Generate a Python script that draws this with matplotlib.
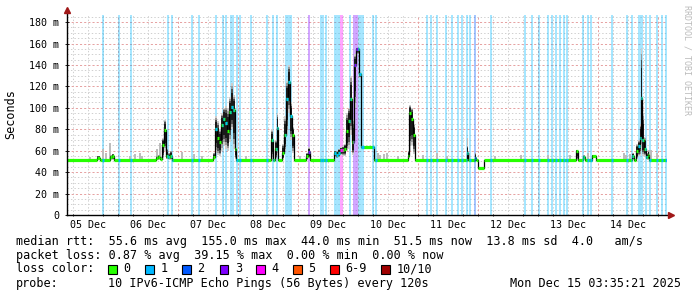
import numpy as np
import matplotlib.pyplot as plt
from matplotlib.collections import LineCollection
from matplotlib.patches import Rectangle

plt.rcParams['font.family'] = ['DejaVu Sans Mono', 'DejaVu Sans']
plt.rcParams['lines.scale_dashes'] = False

B = 51.5  # steady median rtt in ms

# median steps, hours since 05 Dec 00:00
step_h = [3.6, 15.6, 16.8, 20.8, 21.6, 22.4,
          39.2, 40.0, 40.8, 41.6, 42.4, 43.2, 44.0, 44.8, 45.6,
          62.0, 62.8, 63.6, 64.4, 65.2, 66.0, 66.8, 67.6, 68.4, 69.2, 70.0, 70.6, 71.0,
          85.2, 86.0, 86.8, 87.4, 88.0, 89.6, 90.4, 91.2, 92.0, 92.8, 93.6, 94.4, 99.2, 99.8, 100.8,
          110.4, 111.2, 112.0, 112.8, 113.6, 114.4, 115.2, 116.0, 116.8, 117.6, 118.4, 119.0, 120.5, 121.1, 126.2,
          139.8, 140.4, 141.2, 142.0, 142.6,
          163.4, 163.8, 166.6, 167.2, 167.8, 170.3,
          207.2, 207.8, 210.0, 210.6, 213.6, 215.2,
          229.4, 230.2, 231.2, 232.0, 232.6, 233.0, 233.6, 234.2, 235.0, 235.8, 236.4]
med_ms = [B, 53.5, B, 54, 55, B,
          53, 54, 52, 65, 79, 55, 54, 55, B,
          54, 80, 72, 68, 84, 90, 86, 78, 96, 101, 98, 62, B,
          70, B, 62, 81, B, 58, 75, 108, 124, 92, 75, B, 55, 59, B,
          58, 56, 58, 61, 61, 62, 78, 88, 108, 68, 140, 155, 132, 63, B,
          55, 95, 90, 75, B,
          58, B, 53, 51, 43.5, B,
          60, B, 54, B, 55, B,
          55, B, 60, 64, 72, 109, 70, 62, 54, 56, B]
lo_ms = [B, B, B, B, B, B,
         B, B, B, 53, 60, 52, B, B, B,
         B, 58, 56, 55, 60, 65, 62, 60, 68, 80, 62, 52, B,
         52, B, 52, 55, B, 52, 60, 75, 95, 70, 58, B, B, 52, B,
         54, 53, 54, 56, 55, 55, 60, 62, 75, 56, 100, 150, 128, 62.5, B,
         B, 60, 65, 57, B,
         B, B, B, 50, 43, B,
         B, B, B, B, 54, B,
         B, B, 52, 55, 55, 60, 55, 55, B, B, B]
hi_ms = [B, 55, B, 56, 57, B,
         55, 56, 54, 72, 89, 62, 58, 60, B,
         58, 92, 88, 80, 95, 100, 102, 100, 110, 123, 112, 70, B,
         80, B, 70, 95, B, 66, 92, 125, 140, 105, 82, B, 58, 63, B,
         60, 60, 62, 63, 64, 66, 95, 100, 130, 90, 150, 156, 133, 63.5, B,
         60, 103, 100, 85, B,
         65, B, 58, 52, 44.5, B,
         61, B, 56, B, 56, B,
         58, B, 66, 70, 85, 156, 95, 73, 58, 60, B]

# single outlier pings on the flat parts
spike_h = [12.8, 18.0, 19.2, 20.8, 28.8, 30.8, 32.8, 33.6, 39.6, 40.8,
           49.6, 54.4, 57.6, 75.2, 86.0, 96.8, 128.0, 128.8, 130.4, 131.6,
           136.0, 146.0, 151.6, 155.6, 163.8, 164.4, 174.8, 185.2, 196.0, 204.8,
           212.0, 226.4, 227.2, 228.8, 236.4, 237.2, 239.6]
spike_ms = [54, 62, 58, 67, 55, 57, 58, 55, 62, 67,
            59, 57, 55, 55, 56, 55, 58, 56, 57, 58,
            55, 56, 58, 55, 72, 58, 55, 56, 56, 56,
            58, 58, 56, 57, 61, 61, 58]

# packet loss samples (centre hour, width in hours, lost pings)
loss_h = [17.9, 24.4, 29.2, 44.0, 45.6, 53.6, 56.4, 63.2, 66.1, 67.2,
          69.5, 71.5, 72.8, 77.1, 83.5, 86.1, 87.7, 92.1, 100.2, 105.1,
          105.9, 107.2, 111.6, 113.5, 116.8, 119.0, 121.2, 125.9, 127.2, 147.6,
          149.2, 151.6, 155.2, 157.6, 160.0, 161.6, 163.6, 164.8, 166.8, 173.2,
          186.8, 189.6, 192.4, 196.0, 197.6, 199.2, 200.8, 202.4, 203.6, 210.0,
          212.0, 213.2, 221.6, 227.6, 229.6, 233.0, 235.2, 236.8, 239.6, 241.6,
          243.2]
loss_w = [0.8, 0.8, 0.8, 0.8, 0.8, 0.8, 0.8, 0.8, 0.8, 0.8,
          1.4, 0.8, 0.8, 0.8, 0.8, 0.8, 0.8, 2.7, 0.8, 0.8,
          0.8, 0.8, 2.4, 1.3, 0.8, 2.0, 2.4, 0.8, 0.8, 0.8,
          0.8, 0.8, 0.8, 0.8, 0.8, 0.8, 0.8, 0.8, 0.8, 0.8,
          0.8, 0.8, 0.8, 0.8, 0.8, 0.8, 0.8, 0.8, 0.8, 0.8,
          0.8, 0.8, 0.8, 0.8, 0.8, 2.0, 0.8, 0.8, 0.8, 0.8,
          0.8]
loss_n = [1, 1, 1, 1, 1, 1, 1, 1, 1, 1,
          1, 1, 1, 1, 1, 1, 1, 1, 3, 1,
          1, 1, 1, 4, 1, 3, 1, 1, 1, 1,
          1, 1, 1, 1, 1, 1, 1, 1, 2, 1,
          1, 1, 1, 1, 1, 1, 1, 1, 1, 1,
          1, 1, 1, 1, 1, 1, 1, 1, 1, 1,
          1]

loss_colors = {0: '#26ff00', 1: '#00b8ff', 2: '#0059ff', 3: '#7e00ff',
               4: '#ff00ff', 5: '#ff5500', 6: '#ff0000', 10: '#a00000'}
legend_names = ['0', '1', '2', '3', '4', '5', '6-9', '10/10']
legend_keys = [0, 1, 2, 3, 4, 5, 6, 10]

day_labels = ['05 Dec', '06 Dec', '07 Dec', '08 Dec', '09 Dec',
              '10 Dec', '11 Dec', '12 Dec', '13 Dec', '14 Dec']
t_start, t_end = 3.6, 243.6
y_top = 186.6

W, H = 697, 297
fig = plt.figure(figsize=(W / 100, H / 100), dpi=100)
fig.patch.set_facecolor('white')
ax = fig.add_axes([67 / W, 82 / H, 600 / W, 200 / H])
ax.set_xlim(t_start, t_end)
ax.set_ylim(0, y_top)
for s in ax.spines.values():
    s.set_visible(False)

# grid
minor_x = np.arange(6, 244, 6)
for x in minor_x:
    if x % 24:
        ax.axvline(x, color='#cfcfcf', lw=0.7, ls=(0, (1, 1.5)), zorder=1)
for y in range(5, 187, 5):
    if y % 20:
        ax.axhline(y, color='#cfcfcf', lw=0.7, ls=(0, (1, 1.5)), zorder=1)
for x in range(24, 244, 24):
    ax.axvline(x, color='#e6a0a0', lw=0.7, ls=(0, (1.5, 1.5)), zorder=1)
for y in range(20, 181, 20):
    ax.axhline(y, color='#e6a0a0', lw=0.7, ls=(0, (1.5, 1.5)), zorder=1)

# loss background bars
for h, w, n in zip(loss_h, loss_w, loss_n):
    ax.axvspan(h - w / 2, h + w / 2, color=loss_colors[n], alpha=0.35, lw=0, zorder=1.2)

# smoke
edges = np.append(step_h, t_end)
med = np.array(med_ms, dtype=float)
med_e = np.append(med, med[-1])
lo_e = np.append(lo_ms, lo_ms[-1])
hi_e = np.append(hi_ms, hi_ms[-1])
ax.bar(spike_h, np.array(spike_ms) - B, bottom=B, width=0.45, color='#bdbdbd', zorder=1.9)
for f, c in [(1.0, '#cdcdcd'), (0.88, '#9a9a9a'), (0.75, '#505050'), (0.6, '#1a1a1a')]:
    ax.fill_between(edges, med_e - (med_e - lo_e) * f, med_e + (hi_e - med_e) * f,
                    step='post', color=c, lw=0, zorder=2)

# median line
ax.step(edges, med_e, where='post', color='black', lw=0.9, zorder=3)
segs = [[(edges[i], med[i]), (edges[i + 1], med[i])] for i in range(len(med))]
ax.add_collection(LineCollection(segs, colors=loss_colors[0], linewidths=2.3,
                                 capstyle='butt', zorder=4))
for h, w, n in zip(loss_h, loss_w, loss_n):
    a, b = h - w / 2, h + w / 2
    for i in range(len(med)):
        s0, s1 = max(a, edges[i]), min(b, edges[i + 1])
        if s1 > s0:
            ax.plot([s0, s1], [med[i], med[i]], color=loss_colors[n], lw=2.3,
                    solid_capstyle='butt', zorder=5)

# axes with arrows
ax.plot([0, 0], [0, 1.03], transform=ax.transAxes, color='black', lw=1, clip_on=False, zorder=6)
ax.plot([0, 1.006], [0, 0], transform=ax.transAxes, color='black', lw=1, clip_on=False, zorder=6)
ax.plot(0, 1.027, marker='^', ms=4, color='#a01818', transform=ax.transAxes, clip_on=False, zorder=7)
ax.plot(1.007, 0, marker='>', ms=4, color='#a01818', transform=ax.transAxes, clip_on=False, zorder=7)

ax.set_xticks([12 + 24 * i for i in range(len(day_labels))], labels=day_labels)
ax.set_xticks(minor_x, minor=True)
ax.tick_params(axis='x', which='major', length=0, pad=3.5, labelsize=7.2)
ax.tick_params(axis='x', which='minor', length=2, width=0.6, direction='inout')
yt = np.arange(0, 181, 20)
ax.set_yticks(yt, labels=['0'] + [f'{v} m' for v in yt[1:]])
ax.tick_params(axis='y', length=3, width=0.6, direction='inout', pad=4, labelsize=7.2)

fig.text(11 / W, 1 - 114 / H, 'Seconds', rotation=90, ha='center', va='center', fontsize=8.5)
fig.text(687 / W, 1 - 5 / H, 'RRDTOOL / TOBI OETIKER', rotation=270, ha='center', va='top',
         fontsize=6, color='#bbbbbb')

# legend block
rows_y = [241, 255.5, 269, 283.5]
fig.text(16 / W, 1 - rows_y[0] / H,
         'median rtt:  55.6 ms avg  155.0 ms max  44.0 ms min  51.5 ms now  13.8 ms sd  4.0   am/s',
         va='center', fontsize=8.5)
fig.text(16 / W, 1 - rows_y[1] / H,
         'packet loss: 0.87 % avg  39.15 % max  0.00 % min  0.00 % now',
         va='center', fontsize=8.5)
fig.text(16 / W, 1 - rows_y[2] / H, 'loss color:', va='center', fontsize=8.5)
box_x = [108, 145, 182, 220, 256, 293, 330, 381]
for bx, k, name in zip(box_x, legend_keys, legend_names):
    fig.add_artist(Rectangle((bx / W, 1 - 273.5 / H), 8.5 / W, 8.5 / H, facecolor=loss_colors[k],
                             edgecolor='black', lw=0.8, transform=fig.transFigure))
    fig.text((bx + 15.5) / W, 1 - rows_y[2] / H, name, va='center', fontsize=8.5)
fig.text(16 / W, 1 - rows_y[3] / H, 'probe:', va='center', fontsize=8.5)
fig.text(108 / W, 1 - rows_y[3] / H, '10 IPv6-ICMP Echo Pings (56 Bytes) every 120s',
         va='center', fontsize=8.5)
fig.text(681 / W, 1 - rows_y[3] / H, 'Mon Dec 15 03:35:21 2025', ha='right', va='center', fontsize=8.5)

fig.savefig('out.png', dpi=100)
